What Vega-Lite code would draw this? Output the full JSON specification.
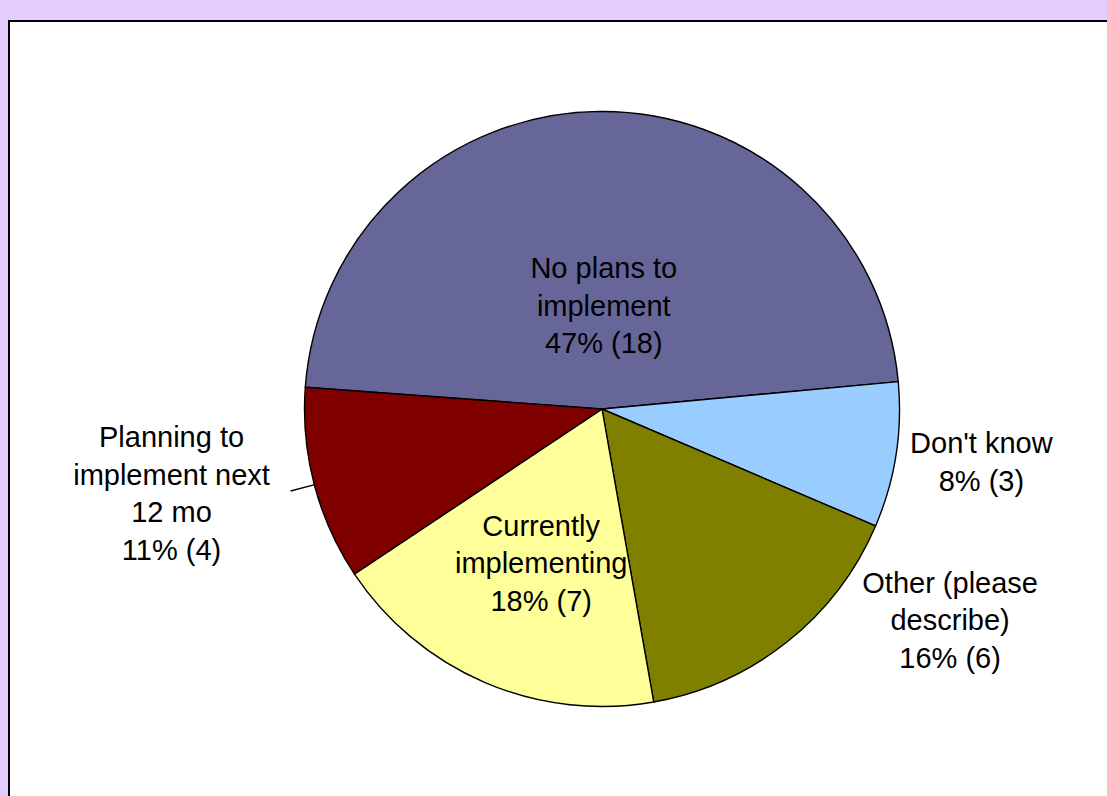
{
  "$schema": "https://vega.github.io/schema/vega-lite/v6.json",
  "autosize": {"type": "none"},
  "width": 1186,
  "height": 776,
  "padding": {"left": 9, "top": 21, "right": -88, "bottom": -1},
  "background": "#E5CCFF",
  "config": {
    "view": {"stroke": null},
    "text": {"font": "Liberation Sans", "fontSize": 29, "lineHeight": 37.5, "lineBreak": "\n", "align": "center", "baseline": "alphabetic", "color": "black"}
  },
  "layer": [
    {
      "data": {"values": [{"panel": "plot area"}]},
      "mark": {"type": "rect", "fill": "white", "stroke": "black", "strokeWidth": 2},
      "encoding": {
        "x": {"value": 0},
        "x2": {"value": "width"},
        "y": {"value": 0},
        "y2": {"value": "height"}
      }
    },
    {
      "data": {
        "values": [
          {"cat": "No plans to implement", "n": 18, "ord": 1, "label": "No plans to\nimplement\n47% (18)"},
          {"cat": "Don't know", "n": 3, "ord": 2, "label": "Don't know\n8% (3)"},
          {"cat": "Other (please describe)", "n": 6, "ord": 3, "label": "Other (please\ndescribe)\n16% (6)"},
          {"cat": "Currently implementing", "n": 7, "ord": 4, "label": "Currently\nimplementing\n18% (7)"},
          {"cat": "Planning to implement next 12 mo", "n": 4, "ord": 5, "label": "Planning to\nimplement next\n12 mo\n11% (4)"}
        ]
      },
      "encoding": {
        "theta": {"field": "n", "type": "quantitative", "stack": true, "scale": {"range": [4.7857, 11.0689]}},
        "order": {"field": "ord", "type": "quantitative"},
        "detail": {"field": "cat", "type": "nominal"}
      },
      "layer": [
        {
          "mark": {"type": "arc", "outerRadius": 297.5, "stroke": "black", "strokeWidth": 1.4},
          "encoding": {
            "color": {
              "field": "cat", "type": "nominal", "legend": null,
              "scale": {
                "domain": ["No plans to implement", "Don't know", "Other (please describe)", "Currently implementing", "Planning to implement next 12 mo"],
                "range": ["#666699", "#99CCFF", "#808000", "#FFFF99", "#800000"]
              }
            }
          }
        },
        {
          "mark": {"type": "arc", "innerRadius": 298, "outerRadius": 322, "padAngle": 3.1, "stroke": "black", "strokeWidth": 1.5, "fill": "black"},
          "encoding": {
            "strokeOpacity": {"condition": {"test": "datum.cat === 'Planning to implement next 12 mo'", "value": 1}, "value": 0}
          }
        },
        {
          "mark": {"type": "text", "radius": 131, "dx": 3},
          "encoding": {"text": {"condition": {"test": "datum.cat === 'No plans to implement'", "field": "label"}, "value": ""}}
        },
        {
          "mark": {"type": "text", "radius": 142, "dx": -5, "dy": -4},
          "encoding": {"text": {"condition": {"test": "datum.cat === 'Currently implementing'", "field": "label"}, "value": ""}}
        },
        {
          "mark": {"type": "text", "radius": 382, "dx": 2, "dy": -15},
          "encoding": {"text": {"condition": {"test": "datum.cat === \"Don't know\"", "field": "label"}, "value": ""}}
        },
        {
          "mark": {"type": "text", "radius": 330, "dx": 143, "dy": -75},
          "encoding": {"text": {"condition": {"test": "datum.cat === 'Other (please describe)'", "field": "label"}, "value": ""}}
        },
        {
          "mark": {"type": "text", "radius": 441, "dx": -4, "dy": -74},
          "encoding": {"text": {"condition": {"test": "datum.cat === 'Planning to implement next 12 mo'", "field": "label"}, "value": ""}}
        }
      ]
    }
  ]
}
